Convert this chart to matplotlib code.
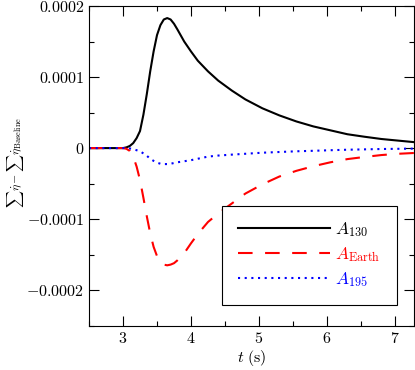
"""Sum of eta-dot differences vs baseline for three cases."""

import matplotlib
matplotlib.use("Agg")
import matplotlib.pyplot as plt
from matplotlib.patches import Rectangle
from matplotlib.ticker import MultipleLocator, FixedLocator, FixedFormatter

plt.rcParams["mathtext.fontset"] = "cm"
plt.rcParams["font.family"] = ["serif"]
plt.rcParams["font.serif"] = ["cmr10", "DejaVu Serif"]
plt.rcParams["axes.formatter.use_mathtext"] = True

# time (s)
t = [2.5, 3.0, 3.05, 3.1, 3.15, 3.2, 3.25, 3.3, 3.35, 3.4, 3.45, 3.5, 3.55,
     3.6, 3.65, 3.7, 3.75, 3.8, 3.9, 4.0, 4.1, 4.25, 4.4, 4.6, 4.8, 5.05,
     5.3, 5.55, 5.8, 6.05, 6.3, 6.55, 6.8, 7.05, 7.3]

# values in units of 1e-5
a130 = [0, 0, 0.1, 0.3, 0.7, 1.4, 2.4, 4.7, 7.6, 10.8, 13.6, 15.9, 17.3,
        18.1, 18.3, 18.1, 17.5, 16.7, 15.0, 13.6, 12.3, 10.8, 9.5, 8.1, 6.85,
        5.6, 4.6, 3.75, 3.05, 2.5, 1.95, 1.6, 1.28, 1.05, 0.82]
a_earth = [0, 0, -0.1, -0.4, -1.2, -2.6, -4.5, -7.0, -9.6, -12.0, -13.9, -15.2,
           -16.0, -16.4, -16.5, -16.4, -16.2, -15.8, -14.8, -13.4, -12.1, -10.4,
           -9.2, -7.8, -6.4, -5.1, -4.0, -3.2, -2.55, -2.0, -1.55, -1.25, -0.98,
           -0.8, -0.68]
a195 = [0, 0, 0, -0.05, -0.15, -0.3, -0.45, -0.75, -1.08, -1.5, -1.8, -2.05,
        -2.2, -2.25, -2.25, -2.2, -2.1, -2.0, -1.85, -1.7, -1.5, -1.2, -1.05,
        -0.92, -0.8, -0.65, -0.55, -0.45, -0.38, -0.3, -0.23, -0.18, -0.13,
        -0.1, -0.07]

yticks = [-0.0002, -0.0001, 0, 0.0001, 0.0002]
ytick_labels = [r"$-0.0002$", r"$-0.0001$", r"$0$", r"$0.0001$", r"$0.0002$"]
xticks = [3, 4, 5, 6, 7]
xtick_labels = [r"$3$", r"$4$", r"$5$", r"$6$", r"$7$"]

scale = 1e-5
fig = plt.figure(figsize=(4.15, 3.7), dpi=100)
ax = fig.add_axes([0.2145, 0.1197, 0.7831, 0.8641])

ax.plot(t, [v * scale for v in a130], color="black", lw=1.5, label=r"$A_{130}$")
ax.plot(t, [v * scale for v in a_earth], color="red", lw=1.5, dashes=(7, 6),
        label=r"$A_{\mathrm{Earth}}$")
ax.plot(t, [v * scale for v in a195], color="blue", lw=1.5, dashes=(1, 2.2),
        label=r"$A_{195}$")

ax.set_xlim(2.5, 7.28)
ax.set_ylim(-0.00025, 0.0002)
ax.xaxis.set_major_locator(FixedLocator(xticks))
ax.xaxis.set_major_formatter(FixedFormatter(xtick_labels))
ax.yaxis.set_major_locator(FixedLocator(yticks))
ax.yaxis.set_major_formatter(FixedFormatter(ytick_labels))
ax.xaxis.set_minor_locator(MultipleLocator(0.5))
ax.yaxis.set_minor_locator(MultipleLocator(0.00005))
ax.tick_params(which="both", direction="in", top=True, right=True,
               labelsize=11.5, width=0.8)
ax.tick_params(which="major", length=7)
ax.tick_params(which="minor", length=3.5)
for s in ax.spines.values():
    s.set_linewidth(0.8)

ax.set_xlabel(r"$t\ \mathrm{(s)}$", fontsize=11.5, labelpad=2)
ax.set_ylabel(r"$\sum\dot{\eta} - \sum\dot{\eta}_{\mathrm{Baseline}}$",
              fontsize=8.5)
ax.yaxis.set_label_coords(-0.195, 0.51)

# legend frame drawn separately so its size can match the original
ax.add_patch(Rectangle((0.408, 0.065), 0.541, 0.31, transform=ax.transAxes,
                       facecolor="white", edgecolor="black", lw=0.8, zorder=4))
leg = ax.legend(loc="upper left", bbox_to_anchor=(0.458, 0.33), borderaxespad=0,
                fontsize=12.5, handlelength=5.3, handletextpad=0.3,
                borderpad=0, labelspacing=0.35, frameon=False,
                labelcolor="linecolor")
leg.set_zorder(5)

fig.savefig("out.png", dpi=100)
